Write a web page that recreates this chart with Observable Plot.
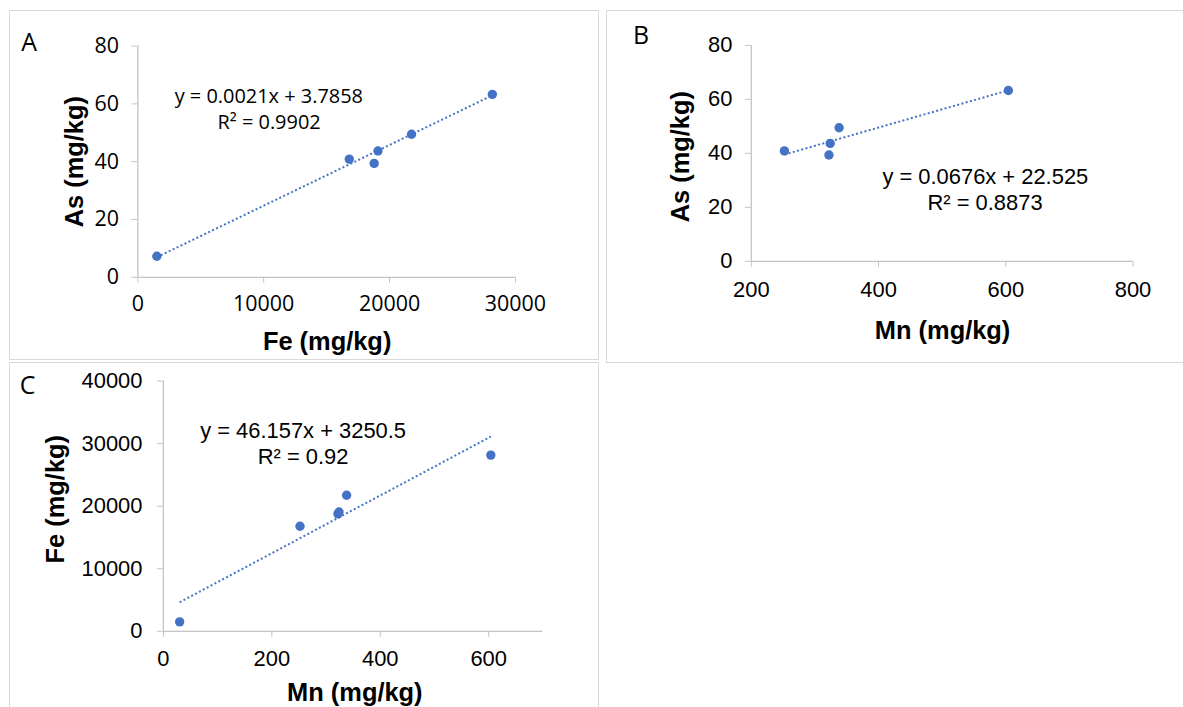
<!DOCTYPE html>
<html>
<head>
<meta charset="utf-8">
<script src="https://cdn.jsdelivr.net/npm/d3@7"></script>
<script src="https://cdn.jsdelivr.net/npm/@observablehq/plot@0.6"></script>
<style>
  html, body { margin: 0; padding: 0; background: #fff; }
  #figure { position: relative; width: 1183px; height: 707px; overflow: hidden; background: #fff; }
  .panel { position: absolute; border: 1px solid #d9d9d9; box-sizing: border-box; overflow: hidden; background: #fff; }
  .panel svg { position: absolute; left: -1px; top: -1px; }
</style>
</head>
<body>
<div id="figure"></div>
<script>
// Element concentrations per soil sample (mg/kg)
const fe = [1510, 16800, 18780, 19080, 21750, 28170];
const as = [7.3, 40.9, 39.4, 43.7, 49.5, 63.3];
const mn = [30, 252, 322, 324, 338, 604];

// Linear trendlines reported on each panel
const panelIds = ["A", "B", "C"];
const slopes = [0.0021, 0.0676, 46.157];
const intercepts = [3.7858, 22.525, 3250.5];
const rSquared = [0.9902, 0.8873, 0.92];

// Axis ticks
const ticksA_x = [0, 10000, 20000, 30000];
const ticksA_y = [0, 20, 40, 60, 80];
const ticksB_x = [200, 400, 600, 800];
const ticksB_y = [0, 20, 40, 60, 80];
const ticksC_x = [0, 200, 400, 600];
const ticksC_y = [0, 10000, 20000, 30000, 40000];

const samples = fe.map((_, i) => ({fe: fe[i], as: as[i], mn: mn[i]}));

const BLUE = "#4472C4";
const AXIS = "#c4c4c4";
const ARIAL = "'Liberation Sans', Arial, sans-serif";
const CALIBRI = "'Open Sans', 'Noto Sans', sans-serif";

function drawPanel(cfg) {
  const m = cfg.margin;
  const k = panelIds.indexOf(cfg.id);
  const slope = slopes[k], intercept = intercepts[k];
  const [x0, x1] = cfg.xDomain;
  const pts = samples.filter(d => d[cfg.x] >= x0 && d[cfg.x] <= x1);
  const xs = d3.extent(pts, d => d[cfg.x]);

  // annotation placed at a pixel position inside the panel
  const note = (text, px, py, o) => Plot.text([text], {
    text: d => d, frameAnchor: "top-left",
    dx: px - m.left, dy: py - m.top, fill: "black", ...o
  });

  const chart = Plot.plot({
    width: cfg.width, height: cfg.height,
    marginTop: m.top, marginRight: m.right, marginBottom: m.bottom, marginLeft: m.left,
    style: {background: "transparent", overflow: "visible"},
    x: {domain: cfg.xDomain},
    y: {domain: cfg.yDomain},
    marks: [
      Plot.ruleY([cfg.yDomain[0]], {stroke: AXIS, strokeWidth: 1.3}),
      Plot.ruleX([cfg.xDomain[0]], {stroke: AXIS, strokeWidth: 1.3}),
      Plot.axisX(cfg.xTicks, {
        tickSize: 6, tickPadding: cfg.padX, stroke: AXIS, fill: "black",
        fontSize: cfg.tickSize, fontFamily: cfg.tickFont, tickFormat: d => String(d), label: null
      }),
      Plot.axisY(cfg.yTicks, {
        tickSize: 6, tickPadding: cfg.padY, stroke: AXIS, fill: "black",
        fontSize: cfg.tickSize, fontFamily: cfg.tickFont, tickFormat: d => String(d), label: null
      }),
      Plot.dot(pts, {x: cfg.x, y: cfg.y, r: 4.7, fill: BLUE, stroke: null}),
      // dotted least-squares trendline over the sampled range
      Plot.line(xs, {
        x: d => d, y: d => slope * d + intercept,
        stroke: BLUE, strokeWidth: 2, strokeDasharray: "2 2.4", strokeLinecap: "butt"
      }),
      note(cfg.id, cfg.letter[0], cfg.letter[1], {
        textAnchor: "start", lineAnchor: "middle", fontSize: 25, fontFamily: CALIBRI
      }),
      note(`y = ${slope}x + ${intercept}`, cfg.eq[0], cfg.eq[1], {
        textAnchor: "middle", lineAnchor: "middle", fontSize: cfg.eqSize, fontFamily: cfg.eqFont
      }),
      note(`R² = ${rSquared[k]}`, cfg.eq2[0], cfg.eq2[1], {
        textAnchor: "middle", lineAnchor: "middle", fontSize: cfg.eqSize, fontFamily: cfg.eqFont
      }),
      note(cfg.xTitle, cfg.xTitlePos[0], cfg.xTitlePos[1], {
        textAnchor: "middle", lineAnchor: "middle", fontSize: 25.5, fontWeight: "bold", fontFamily: ARIAL
      }),
      note(cfg.yTitle, cfg.yTitlePos[0], cfg.yTitlePos[1], {
        textAnchor: "middle", lineAnchor: "middle", rotate: -90, fontSize: 25.5, fontWeight: "bold", fontFamily: ARIAL
      })
    ]
  });

  const div = document.createElement("div");
  div.className = "panel";
  Object.assign(div.style, {
    left: cfg.left + "px", top: cfg.top + "px",
    width: cfg.width + "px", height: cfg.height + "px"
  });
  div.appendChild(chart);
  document.getElementById("figure").appendChild(div);
}

// A: As against Fe
drawPanel({
  id: "A", x: "fe", y: "as",
  left: 9, top: 10, width: 590, height: 350,
  margin: {top: 35.7, right: 82.4, bottom: 82.3, left: 128.8},
  xDomain: [0, 30000], yDomain: [0, 80], xTicks: ticksA_x, yTicks: ticksA_y,
  tickFont: CALIBRI, tickSize: 21.5, padX: 12.7, padY: 13,
  eqFont: CALIBRI, eqSize: 20,
  letter: [11.7, 32.3], eq: [260.2, 86], eq2: [260.5, 112.7],
  xTitle: "Fe (mg/kg)", xTitlePos: [318.7, 332.7],
  yTitle: "As (mg/kg)", yTitlePos: [65.6, 151.7]
});

// B: As against Mn
drawPanel({
  id: "B", x: "mn", y: "as",
  left: 606, top: 10, width: 600, height: 353,
  margin: {top: 35, right: 71.7, bottom: 101.3, left: 145.3},
  xDomain: [200, 800], yDomain: [0, 80], xTicks: ticksB_x, yTicks: ticksB_y,
  tickFont: ARIAL, tickSize: 22, padX: 14.5, padY: 13,
  eqFont: ARIAL, eqSize: 22,
  letter: [26.7, 26], eq: [380.1, 166.7], eq2: [379.8, 192.7],
  xTitle: "Mn (mg/kg)", xTitlePos: [337.2, 321.7],
  yTitle: "As (mg/kg)", yTitlePos: [74.7, 146.7]
});

// C: Fe against Mn
drawPanel({
  id: "C", x: "mn", y: "fe",
  left: 9, top: 362, width: 590, height: 360,
  margin: {top: 18.7, right: 54.8, bottom: 90.3, left: 154.4},
  xDomain: [0, 700], yDomain: [0, 40000], xTicks: ticksC_x, yTicks: ticksC_y,
  tickFont: ARIAL, tickSize: 22, padX: 12.8, padY: 15,
  eqFont: ARIAL, eqSize: 22,
  letter: [10.3, 23.8], eq: [294.6, 68.7], eq2: [294.6, 94.7],
  xTitle: "Mn (mg/kg)", xTitlePos: [346.5, 331.3],
  yTitle: "Fe (mg/kg)", yTitlePos: [46.5, 137.2]
});
</script>
</body>
</html>
